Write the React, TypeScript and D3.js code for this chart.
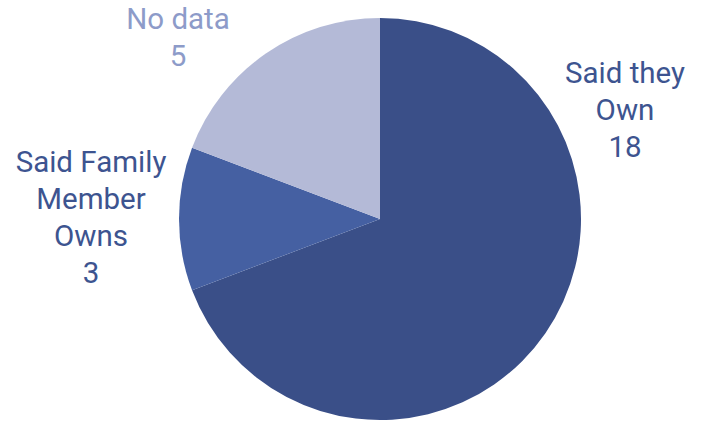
import React from "react";
import * as d3 from "d3";

const categories = ["Said they Own", "Said Family Member Owns", "No data"];
const values = [18, 3, 5];
const colors = ["#3A4F88", "#4560A2", "#B4BAD7"];
const labelLines = [["Said they", "Own", "18"], ["Said Family", "Member", "Owns", "3"], ["No data", "5"]];
const labelColors = ["#3D5490", "#3D5490", "#8D9BC9"];
const labelPos = [[625, 83], [91, 172], [178, 29]];

export default function App() {
  const W = 702, H = 421;
  const cx = 380, cy = 219, r = 201;
  const pie = d3.pie<number>().sort(null).value((d) => d)(values);
  const arc = d3.arc<d3.PieArcDatum<number>>().innerRadius(0).outerRadius(r);
  return (
    <svg width={W} height={H} style={{ position: "absolute", left: 0, top: 0 }}>
      <rect width={W} height={H} fill="#fff" />
      <g transform={`translate(${cx},${cy})`}>
        {pie.map((p, i) => (
          <path key={categories[i]} d={arc(p) || ""} fill={colors[i]} />
        ))}
      </g>
      {labelLines.map((lines, i) => (
        <text key={i} fontFamily="Roboto, sans-serif" fontSize={29.5} fill={labelColors[i]} textAnchor="middle">
          {lines.map((l, j) => (
            <tspan key={j} x={labelPos[i][0]} y={labelPos[i][1] + j * 37}>{l}</tspan>
          ))}
        </text>
      ))}
    </svg>
  );
}
